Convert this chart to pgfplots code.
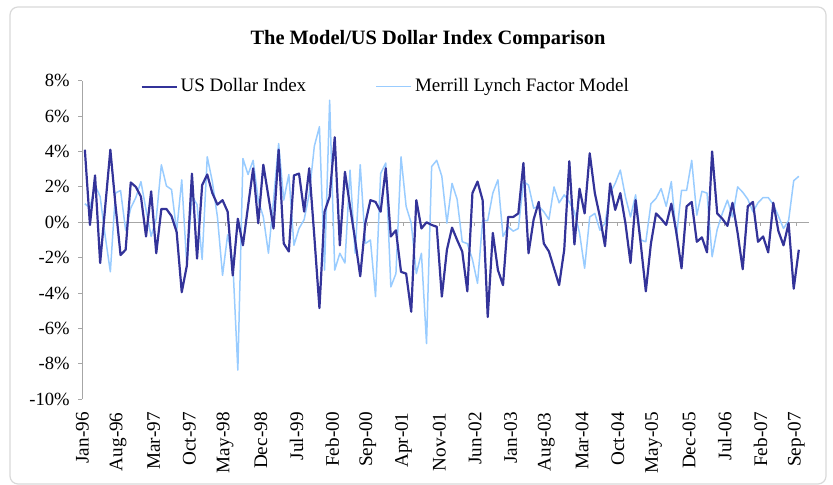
\documentclass[border=0pt]{standalone}
\usepackage{fontspec}
\setmainfont{Liberation Serif}
\usepackage{pgfplots}
\pgfplotsset{compat=1.18}
\usepackage{pgfplotstable}
\definecolor{usd}{HTML}{333399}
\definecolor{ml}{HTML}{99CCFF}
\definecolor{axgray}{HTML}{A6A6A6}
\definecolor{framegray}{HTML}{D9D9D9}

\pgfplotstableread{
j usd ml
0 4.1 1.05
1 -0.15 0.8
2 2.65 2.1
3 -2.3 1.45
4 0.9 -0.8
5 4.1 -2.8
6 1.0 1.65
7 -1.85 1.8
8 -1.55 -0.45
9 2.25 0.8
10 2.0 1.4
11 1.45 2.3
12 -0.8 0.7
13 1.75 -0.8
14 -1.75 0.2
15 0.75 3.25
16 0.75 2.05
17 0.35 1.85
18 -0.55 -0.5
19 -3.95 2.4
20 -2.45 -2.5
21 2.75 1.5
22 -2.05 1.0
23 2.1 -2.1
24 2.7 3.7
25 1.65 2.3
26 1.0 0.3
27 1.25 -3.0
28 0.6 -0.7
29 -3.0 -2.2
30 0.2 -8.35
31 -1.3 3.6
32 0.9 2.7
33 3.05 3.5
34 -0.05 1.25
35 3.25 0.3
36 1.45 -1.75
37 -0.35 1.25
38 4.1 4.45
39 -1.2 1.25
40 -1.65 2.7
41 2.65 -1.3
42 2.75 -0.35
43 0.6 0.15
44 3.05 1.6
45 -0.8 4.3
46 -4.85 5.4
47 0.6 -2.7
48 1.45 6.9
49 4.8 -2.7
50 -1.3 -1.75
51 2.85 -2.3
52 0.9 2.95
53 -1.0 -1.75
54 -3.05 3.25
55 -0.05 -1.2
56 1.25 -1.0
57 1.15 -4.2
58 0.6 2.75
59 3.05 3.35
60 -0.8 -3.65
61 -0.45 -2.9
62 -2.8 3.7
63 -2.9 0.9
64 -5.05 -0.05
65 1.25 -2.9
66 -0.35 -1.75
67 0.0 -6.85
68 -0.15 3.15
69 -0.25 3.5
70 -4.2 2.6
71 -1.55 -0.05
72 -0.3 2.2
73 -1.0 1.3
74 -1.65 -1.1
75 -3.9 -1.2
76 1.65 -2.1
77 2.3 -3.45
78 1.25 0.1
79 -5.35 0.1
80 -0.6 1.65
81 -2.7 2.4
82 -3.55 -0.8
83 0.3 -0.25
84 0.3 -0.5
85 0.5 -0.35
86 3.35 2.3
87 -1.75 2.1
88 0.15 0.8
89 1.15 0.9
90 -1.2 0.6
91 -1.65 0.15
92 -2.6 2.0
93 -3.55 1.1
94 -1.55 1.55
95 3.45 1.15
96 -1.25 0.6
97 1.9 -0.6
98 0.5 -2.6
99 3.9 0.3
100 1.65 0.5
101 0.3 -0.45
102 -1.35 -0.05
103 2.2 1.65
104 0.7 2.2
105 1.65 2.95
106 -0.05 1.45
107 -2.3 0.3
108 1.25 1.55
109 -1.2 -1.0
110 -3.9 -1.1
111 -1.2 1.05
112 0.5 1.35
113 0.2 1.9
114 -0.15 0.9
115 1.05 2.3
116 -0.6 -0.8
117 -2.6 1.8
118 0.9 1.8
119 1.15 3.5
120 -1.1 0.4
121 -0.85 1.75
122 -1.7 1.65
123 4.0 -1.95
124 0.5 -0.4
125 0.2 0.5
126 -0.2 1.25
127 1.1 0.3
128 -0.6 2.0
129 -2.65 1.7
130 0.9 1.3
131 1.15 0.6
132 -1.1 1.1
133 -0.8 1.4
134 -1.7 1.4
135 1.1 1.0
136 -0.5 0.35
137 -1.3 -0.35
138 -0.05 0.1
139 -3.75 2.35
140 -1.55 2.6
}\data

\begin{document}
\begin{tikzpicture}
\path[use as bounding box] (0pt,0pt) rectangle (416.5pt,242.5pt);
\draw[framegray, rounded corners=4pt, line width=0.6pt] (5pt,0.5pt) rectangle (413pt,239pt);
\node[anchor=base, inner sep=0pt, font=\fontsize{10.2}{12}\selectfont\bfseries] at (214pt,220pt) {The Model/US Dollar Index Comparison};
\begin{axis}[
  at={(41.15pt,42.85pt)}, anchor=south west,
  scale only axis, width=363.35pt, height=159.3pt,
  xmin=-0.5, xmax=142, ymin=-10, ymax=8,
  axis x line*=bottom, axis y line*=left,
  x axis line style={draw=none},
  y axis line style={axgray, line width=0.5pt, -},
  xtick={-0.5,6.5,13.5,20.5,27.5,34.5,41.5,48.5,55.5,62.5,69.5,76.5,83.5,90.5,97.5,104.5,111.5,118.5,125.5,132.5,139.5},
  xticklabels={Jan-96,Aug-96,Mar-97,Oct-97,May-98,Dec-98,Jul-99,Feb-00,Sep-00,Apr-01,Nov-01,Jun-02,Jan-03,Aug-03,Mar-04,Oct-04,May-05,Dec-05,Jul-06,Feb-07,Sep-07},
  x tick style={draw=none},
  xticklabel style={font=\fontsize{9.6}{11}\selectfont, rotate=90, anchor=east, inner sep=0pt},
  xticklabel shift=4.35pt,
  ytick={-10,-8,-6,-4,-2,0,2,4,6,8},
  yticklabels={-10\%,-8\%,-6\%,-4\%,-2\%,0\%,2\%,4\%,6\%,8\%},
  y tick style={axgray, line width=0.5pt},
  tick align=outside, major tick length=2pt,
  yticklabel style={font=\fontsize{9.3}{11}\selectfont, anchor=east, inner sep=0pt},
  yticklabel shift=4.15pt,
  legend columns=-1,
  legend image code/.code={\draw[#1] (0pt,0pt) -- (17.5pt,0pt);},
  legend style={at={(0.0794,0.981)}, anchor=west, draw=none, fill=none, inner sep=0pt,
    font=\fontsize{9.5}{11}\selectfont, nodes={inner sep=0pt},
    /tikz/every odd column/.append style={column sep=1.5pt},
    /tikz/every even column/.append style={column sep=34.7pt}},
]
\draw[axgray, line width=0.6pt] (axis cs:-0.5,0) -- (axis cs:142,0);
\pgfplotsinvokeforeach{-0.5,6.5,13.5,20.5,27.5,34.5,41.5,48.5,55.5,62.5,69.5,76.5,83.5,90.5,97.5,104.5,111.5,118.5,125.5,132.5,139.5}{
  \draw[axgray, line width=0.5pt] (axis cs:#1,0) -- ++(0pt,-2pt);
}
\addlegendimage{usd, line width=1.1pt}
\addlegendentry{US Dollar Index}
\addlegendimage{ml, line width=0.75pt}
\addlegendentry{Merrill Lynch Factor Model}
\addplot[ml, line width=0.75pt, line join=round, forget plot] table[x=j, y=ml] {\data};
\addplot[usd, line width=1.1pt, line join=round, forget plot] table[x=j, y=usd] {\data};
\end{axis}
\end{tikzpicture}
\end{document}
